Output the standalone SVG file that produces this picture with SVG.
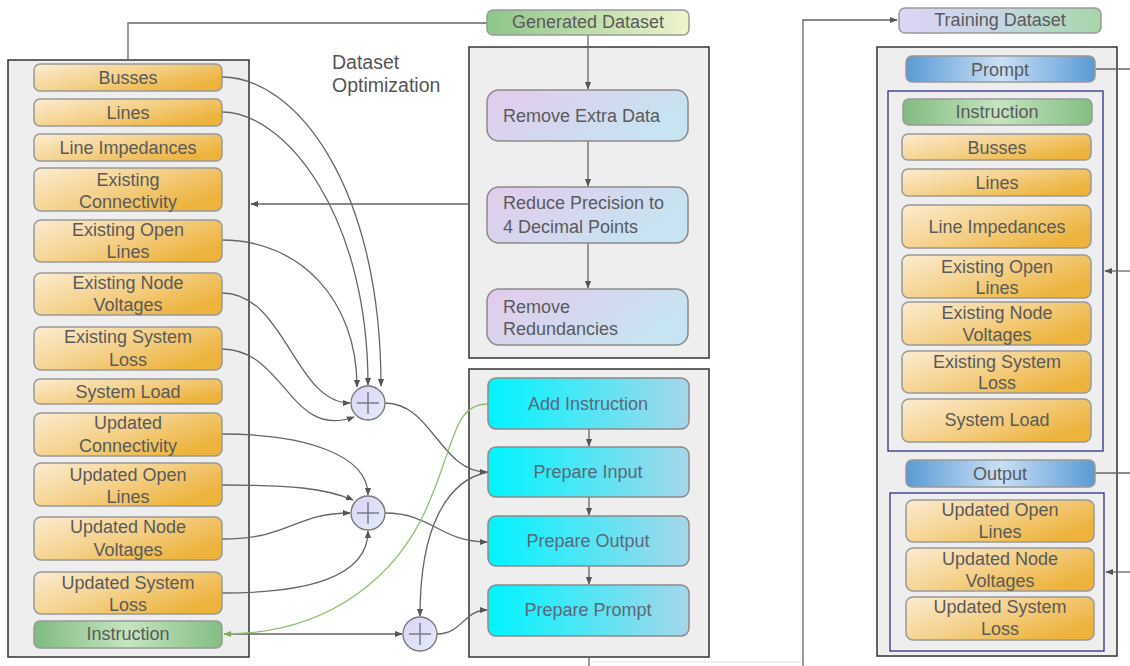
<svg xmlns="http://www.w3.org/2000/svg" width="1130" height="666" viewBox="0 0 1130 666">
<defs>
<linearGradient id="gOrg" x1="0" y1="0" x2="1" y2="0.6"><stop offset="0" stop-color="#fcecd2"/><stop offset="0.5" stop-color="#f5d28e"/><stop offset="1" stop-color="#edb33c"/></linearGradient>
<linearGradient id="gGrn" x1="0" y1="0" x2="1" y2="0"><stop offset="0" stop-color="#80bb80"/><stop offset="0.5" stop-color="#c6e4c0"/><stop offset="1" stop-color="#82be82"/></linearGradient>
<linearGradient id="gGen" x1="0" y1="0" x2="1" y2="0"><stop offset="0" stop-color="#8cc689"/><stop offset="1" stop-color="#eef4cc"/></linearGradient>
<linearGradient id="gTrain" x1="0" y1="0" x2="1" y2="0"><stop offset="0" stop-color="#ddd4f8"/><stop offset="0.5" stop-color="#c4d6e4"/><stop offset="1" stop-color="#a6d6a8"/></linearGradient>
<linearGradient id="gBlue" x1="0" y1="0" x2="1" y2="0"><stop offset="0" stop-color="#5a9ad6"/><stop offset="0.5" stop-color="#c9e0f5"/><stop offset="1" stop-color="#5a9ad6"/></linearGradient>
<linearGradient id="gPur" x1="0" y1="0" x2="1" y2="0.4"><stop offset="0" stop-color="#e4caec"/><stop offset="1" stop-color="#c6e4f2"/></linearGradient>
<linearGradient id="gCyan" x1="0" y1="0" x2="1" y2="0"><stop offset="0" stop-color="#00f4ff"/><stop offset="1" stop-color="#a6d6ea"/></linearGradient>
<linearGradient id="gSum" x1="0" y1="0" x2="1" y2="1"><stop offset="0" stop-color="#dcd2f6"/><stop offset="1" stop-color="#e2eef8"/></linearGradient>
<marker id="ah" viewBox="0 0 10 10" refX="9" refY="5" markerWidth="6" markerHeight="6" orient="auto-start-reverse"><path d="M0,1 L10,5 L0,9 Z" fill="#555"/></marker>
<marker id="ahg" viewBox="0 0 10 10" refX="9" refY="5" markerWidth="6" markerHeight="6" orient="auto-start-reverse"><path d="M0,1 L10,5 L0,9 Z" fill="#7fae5c"/></marker>
</defs>
<style>
.cont{fill:#eeeeee;stroke:#333;stroke-width:1.5}
.grp{fill:none;stroke:#2e2e8c;stroke-width:1.3}
.nd{stroke:#999;stroke-width:1.5}
.org{fill:url(#gOrg)}
.grn{fill:url(#gGrn)}
.blu{fill:url(#gBlue)}
.pur{fill:url(#gPur);stroke:#8a8a8a;stroke-width:1.5}
.cyn{fill:url(#gCyan);stroke:#8a8a8a;stroke-width:1.5}
text{font-family:"Liberation Sans",Arial,sans-serif;font-size:18px;fill:#5a5a5a}
.c{text-anchor:middle}
.ct{fill:#5a6878}
.title{font-size:19.5px;fill:#555}
.ln{fill:none;stroke:#666;stroke-width:1.3}
.lg{fill:none;stroke:#8fbf6a;stroke-width:1.3}
.sum{fill:url(#gSum);stroke:#777;stroke-width:1.3}
.plus{stroke:#7a7a8a;stroke-width:1.5}
</style>

<g id="containers">
<rect class="cont" x="8" y="60" width="241" height="597"/>
<rect class="cont" x="469" y="47" width="240" height="311"/>
<rect class="cont" x="469" y="369" width="240" height="288"/>
<rect class="cont" x="877" y="47" width="240" height="609"/>
<rect class="grp" x="888" y="91" width="215" height="360"/>
<rect class="grp" x="890" y="493" width="214" height="158"/>
</g>

<text id="label-dataset-optimization" class="title" x="332" y="69">Dataset<tspan x="332" y="92">Optimization</tspan></text>

<g id="connectors">
<path class="ln" d="M128,60 V23 H487"/>
<path class="ln" d="M469,204 H251" marker-end="url(#ah)"/>
<path class="ln" d="M588,35 V89" marker-end="url(#ah)"/>
<path class="ln" d="M588,141 V186" marker-end="url(#ah)"/>
<path class="ln" d="M588,243 V288" marker-end="url(#ah)"/>
<path class="ln" d="M589,429 V446" marker-end="url(#ah)"/>
<path class="ln" d="M589,497 V515" marker-end="url(#ah)"/>
<path class="ln" d="M589,566 V584" marker-end="url(#ah)"/>
<path class="ln" d="M589,657 V690 H803 V20 H897" marker-end="url(#ah)"/>
<path d="M591,662 H801" fill="none" stroke="#e2e2e2" stroke-width="1"/>
<path class="ln" d="M1095,69 H1132"/>
<path class="ln" d="M1132,271 H1105" marker-end="url(#ah)"/>
<path class="ln" d="M1095,473 H1132"/>
<path class="ln" d="M1132,572 H1106" marker-end="url(#ah)"/>
<path class="ln" d="M222,77 C295,77 381,185 381,386" marker-end="url(#ah)"/>
<path class="ln" d="M222,112 C285,112 368,215 368,385" marker-end="url(#ah)"/>
<path class="ln" d="M222,240 C300,240 357,300 357,387" marker-end="url(#ah)"/>
<path class="ln" d="M222,293 C285,293 295,403 350,403" marker-end="url(#ah)"/>
<path class="ln" d="M222,349 C285,349 290,440 354,417" marker-end="url(#ah)"/>
<path class="ln" d="M385,403 C432,403 440,472 487,472" marker-end="url(#ah)"/>
<path class="ln" d="M222,434 C305,434 368,455 368,495" marker-end="url(#ah)"/>
<path class="ln" d="M222,485 C290,485 325,488 353,500" marker-end="url(#ah)"/>
<path class="ln" d="M222,539 C290,539 295,513 350,513" marker-end="url(#ah)"/>
<path class="ln" d="M222,593 C305,593 368,578 368,531" marker-end="url(#ah)"/>
<path class="ln" d="M385,513 C432,513 440,542 487,542" marker-end="url(#ah)"/>
<path class="ln" d="M488,472 C448,480 420,525 420,616" marker-end="url(#ah)"/>
<path class="ln" d="M224,634 H402" marker-end="url(#ah)"/>
<path class="ln" d="M437,634 C462,634 464,610 487,610" marker-end="url(#ah)"/>
<path class="lg" d="M488,404 C455,404 455,440 432,495 C402,575 330,634 224,634" marker-end="url(#ahg)"/>
</g>

<g id="sum1"><circle class="sum" cx="368" cy="403" r="17"/><path class="plus" d="M357,403 H379 M368,392 V414"/></g>
<g id="sum2"><circle class="sum" cx="368" cy="513" r="17"/><path class="plus" d="M357,513 H379 M368,502 V524"/></g>
<g id="sum3"><circle class="sum" cx="420" cy="634" r="17"/><path class="plus" d="M409,634 H431 M420,623 V645"/></g>

<g id="generated-dataset"><rect class="nd" fill="url(#gGen)" x="487" y="10" width="202" height="25" rx="6"/><text class="c" x="588" y="28">Generated Dataset</text></g>
<g id="training-dataset"><rect class="nd" fill="url(#gTrain)" x="899" y="8" width="202" height="25" rx="6"/><text class="c" x="1000" y="26">Training Dataset</text></g>

<g id="l-busses"><rect class="nd org" x="34" y="64" width="188" height="27" rx="6"/><text class="c" x="128" y="84">Busses</text></g>
<g id="l-lines"><rect class="nd org" x="34" y="99" width="188" height="27" rx="6"/><text class="c" x="128" y="119">Lines</text></g>
<g id="l-line-impedances"><rect class="nd org" x="34" y="134" width="188" height="27" rx="6"/><text class="c" x="128" y="154">Line Impedances</text></g>
<g id="l-existing-connectivity"><rect class="nd org" x="34" y="168" width="188" height="43" rx="7"/><text class="c" x="128" y="186">Existing<tspan x="128" y="208">Connectivity</tspan></text></g>
<g id="l-existing-open-lines"><rect class="nd org" x="34" y="220" width="188" height="42" rx="7"/><text class="c" x="128" y="236">Existing Open<tspan x="128" y="258">Lines</tspan></text></g>
<g id="l-existing-node-voltages"><rect class="nd org" x="34" y="273" width="188" height="42" rx="7"/><text class="c" x="128" y="289">Existing Node<tspan x="128" y="311">Voltages</tspan></text></g>
<g id="l-existing-system-loss"><rect class="nd org" x="34" y="327" width="188" height="43" rx="7"/><text class="c" x="128" y="343">Existing System<tspan x="128" y="366">Loss</tspan></text></g>
<g id="l-system-load"><rect class="nd org" x="34" y="379" width="188" height="25" rx="6"/><text class="c" x="128" y="398">System Load</text></g>
<g id="l-updated-connectivity"><rect class="nd org" x="34" y="413" width="188" height="43" rx="7"/><text class="c" x="128" y="429">Updated<tspan x="128" y="452">Connectivity</tspan></text></g>
<g id="l-updated-open-lines"><rect class="nd org" x="34" y="463" width="188" height="43" rx="7"/><text class="c" x="128" y="481">Updated Open<tspan x="128" y="503">Lines</tspan></text></g>
<g id="l-updated-node-voltages"><rect class="nd org" x="34" y="517" width="188" height="43" rx="7"/><text class="c" x="128" y="533">Updated Node<tspan x="128" y="556">Voltages</tspan></text></g>
<g id="l-updated-system-loss"><rect class="nd org" x="34" y="572" width="188" height="42" rx="7"/><text class="c" x="128" y="589">Updated System<tspan x="128" y="611">Loss</tspan></text></g>
<g id="l-instruction"><rect class="nd grn" x="34" y="621" width="188" height="27" rx="6"/><text class="c" x="128" y="640">Instruction</text></g>

<g id="remove-extra-data"><rect class="pur" x="487" y="90" width="201" height="51" rx="12"/><text x="503" y="122">Remove Extra Data</text></g>
<g id="reduce-precision"><rect class="pur" x="487" y="187" width="201" height="56" rx="12"/><text x="503" y="209">Reduce Precision to<tspan x="503" y="233">4 Decimal Points</tspan></text></g>
<g id="remove-redundancies"><rect class="pur" x="487" y="289" width="201" height="56" rx="12"/><text x="503" y="313">Remove<tspan x="503" y="335">Redundancies</tspan></text></g>

<g id="add-instruction"><rect class="cyn" x="488" y="378" width="201" height="51" rx="8"/><text class="c ct" x="588" y="410">Add Instruction</text></g>
<g id="prepare-input"><rect class="cyn" x="488" y="447" width="201" height="50" rx="8"/><text class="c ct" x="588" y="478">Prepare Input</text></g>
<g id="prepare-output"><rect class="cyn" x="488" y="516" width="201" height="50" rx="8"/><text class="c ct" x="588" y="547">Prepare Output</text></g>
<g id="prepare-prompt"><rect class="cyn" x="488" y="585" width="201" height="51" rx="8"/><text class="c ct" x="588" y="616">Prepare Prompt</text></g>

<g id="r-prompt"><rect class="nd blu" x="906" y="56" width="189" height="26" rx="6"/><text class="c" x="1000" y="76">Prompt</text></g>
<g id="r-instruction"><rect class="nd grn" x="903" y="99" width="189" height="26" rx="6"/><text class="c" x="997" y="118">Instruction</text></g>
<g id="r-busses"><rect class="nd org" x="902" y="134" width="189" height="26" rx="6"/><text class="c" x="997" y="154">Busses</text></g>
<g id="r-lines"><rect class="nd org" x="902" y="169" width="189" height="27" rx="6"/><text class="c" x="997" y="189">Lines</text></g>
<g id="r-line-impedances"><rect class="nd org" x="902" y="205" width="189" height="43" rx="7"/><text class="c" x="997" y="233">Line Impedances</text></g>
<g id="r-existing-open-lines"><rect class="nd org" x="902" y="255" width="189" height="43" rx="7"/><text class="c" x="997" y="273">Existing Open<tspan x="997" y="294">Lines</tspan></text></g>
<g id="r-existing-node-voltages"><rect class="nd org" x="902" y="302" width="189" height="43" rx="7"/><text class="c" x="997" y="319">Existing Node<tspan x="997" y="341">Voltages</tspan></text></g>
<g id="r-existing-system-loss"><rect class="nd org" x="902" y="351" width="189" height="42" rx="7"/><text class="c" x="997" y="368">Existing System<tspan x="997" y="389">Loss</tspan></text></g>
<g id="r-system-load"><rect class="nd org" x="902" y="399" width="189" height="43" rx="7"/><text class="c" x="997" y="426">System Load</text></g>
<g id="r-output"><rect class="nd blu" x="906" y="460" width="189" height="27" rx="6"/><text class="c" x="1000" y="480">Output</text></g>
<g id="r-updated-open-lines"><rect class="nd org" x="906" y="500" width="188" height="42" rx="7"/><text class="c" x="1000" y="516">Updated Open<tspan x="1000" y="538">Lines</tspan></text></g>
<g id="r-updated-node-voltages"><rect class="nd org" x="906" y="548" width="188" height="43" rx="7"/><text class="c" x="1000" y="565">Updated Node<tspan x="1000" y="587">Voltages</tspan></text></g>
<g id="r-updated-system-loss"><rect class="nd org" x="906" y="597" width="188" height="43" rx="7"/><text class="c" x="1000" y="613">Updated System<tspan x="1000" y="635">Loss</tspan></text></g>
</svg>
